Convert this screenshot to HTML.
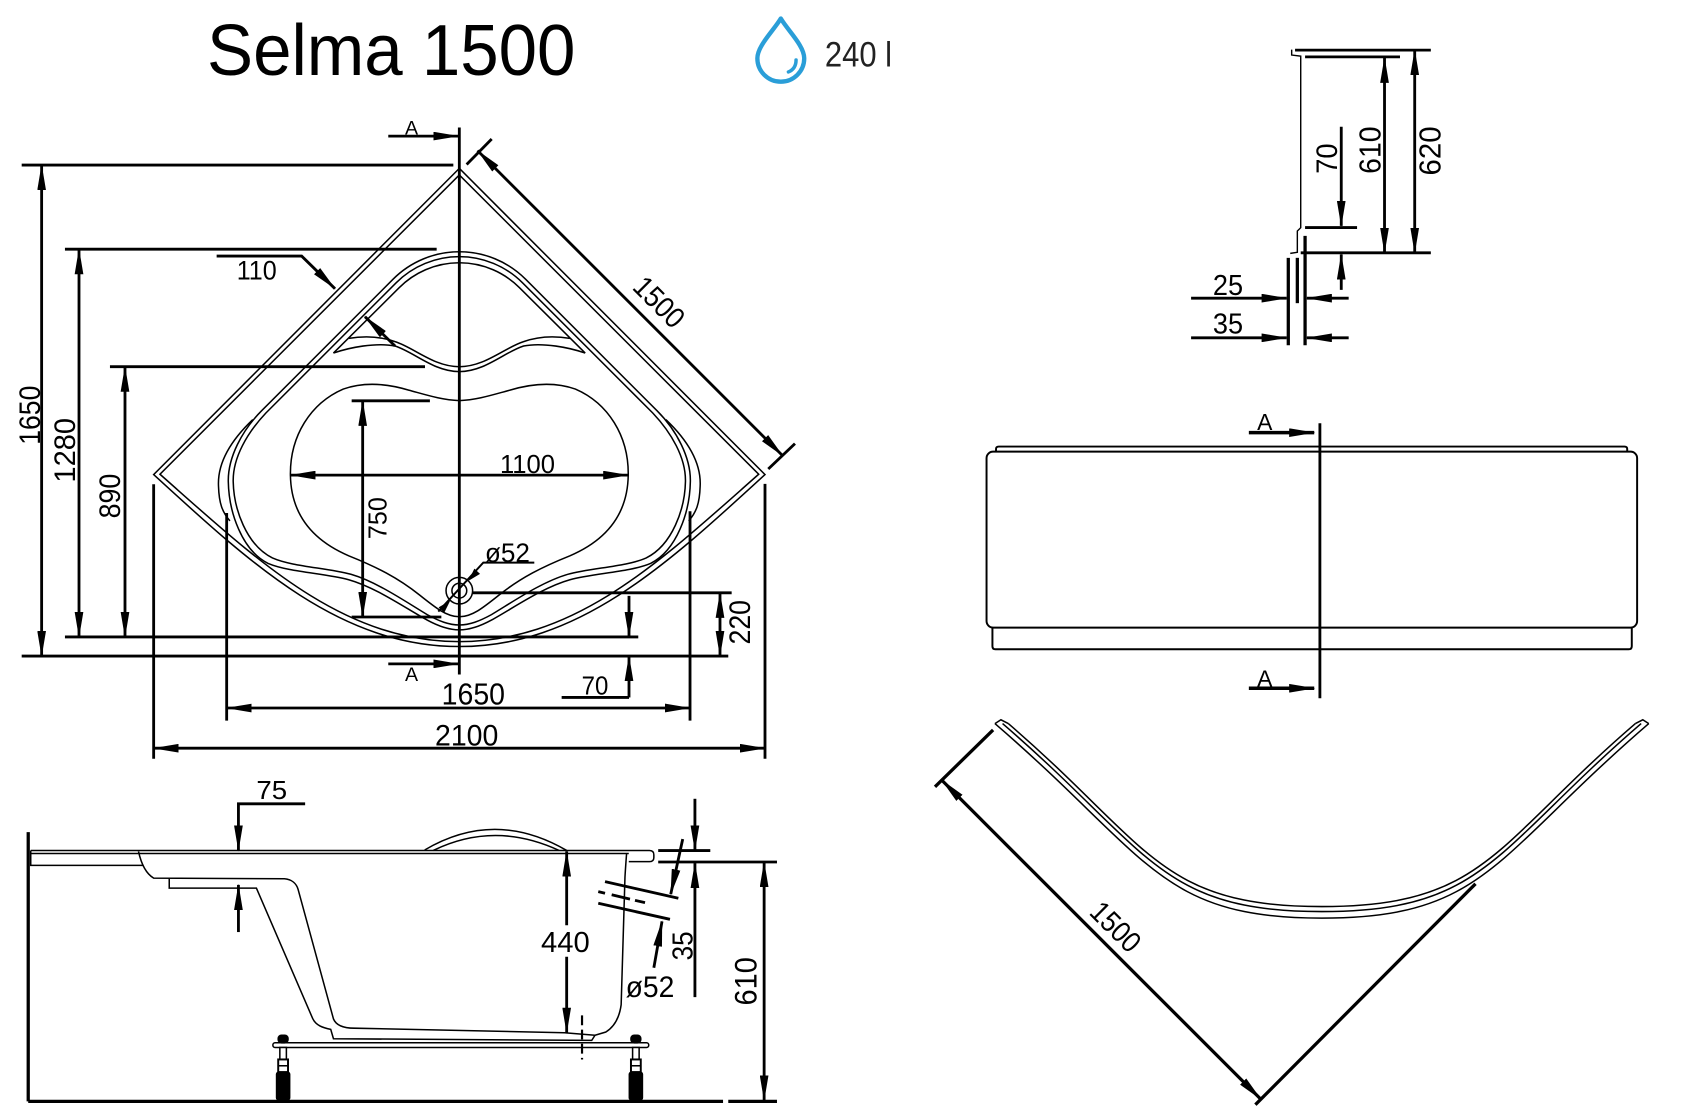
<!DOCTYPE html>
<html><head><meta charset="utf-8">
<style>html,body{margin:0;padding:0;background:#fff;width:1700px;height:1120px;overflow:hidden}svg{display:block}</style>
</head><body>
<svg xmlns="http://www.w3.org/2000/svg" width="1700" height="1120" viewBox="0 0 1560 1027.76">
<defs>
<marker id="a" viewBox="0 0 24 8" refX="23" refY="4" markerWidth="24" markerHeight="8" markerUnits="userSpaceOnUse" orient="auto-start-reverse"><path d="M0,0 L24,4 L0,8 Z" fill="#000"/></marker>
</defs>
<rect x="0" y="0" width="1560" height="1027.76" fill="#fff"/>

<!-- ============ PLAN VIEW: dimensions ============ -->
<g fill="none" stroke="#000" stroke-width="2.6">
  <line x1="421.5" y1="117" x2="421.5" y2="619"/>
  <line x1="356.3" y1="124.9" x2="420.6" y2="124.9" marker-end="url(#a)"/>
  <line x1="356.3" y1="609.2" x2="420.6" y2="609.2" marker-end="url(#a)"/>
  <line x1="19.9" y1="151.5" x2="416" y2="151.5"/>
  <line x1="19.9" y1="602" x2="668.3" y2="602"/>
  <line x1="59.6" y1="228.7" x2="400.7" y2="228.7"/>
  <line x1="59.6" y1="584.5" x2="585.7" y2="584.5"/>
  <line x1="100.9" y1="336.5" x2="390" y2="336.5"/>
  <line x1="322.7" y1="367.8" x2="394.5" y2="367.8"/>
  <line x1="322.7" y1="566.2" x2="405" y2="566.2"/>
  <line x1="434" y1="544" x2="671.4" y2="544"/>
  <line x1="38.2" y1="151.5" x2="38.2" y2="602" marker-start="url(#a)" marker-end="url(#a)"/>
  <line x1="72.5" y1="228.7" x2="72.5" y2="584.5" marker-start="url(#a)" marker-end="url(#a)"/>
  <line x1="114.7" y1="336.5" x2="114.7" y2="584.5" marker-start="url(#a)" marker-end="url(#a)"/>
  <line x1="332.8" y1="367.8" x2="332.8" y2="566.2" marker-start="url(#a)" marker-end="url(#a)"/>
  <line x1="660.7" y1="544" x2="660.7" y2="602" marker-start="url(#a)" marker-end="url(#a)"/>
  <line x1="577.2" y1="546.8" x2="577.2" y2="584.5" marker-end="url(#a)"/>
  <line x1="577.2" y1="640" x2="577.2" y2="602" marker-end="url(#a)"/>
  <line x1="515.4" y1="640" x2="577.2" y2="640"/>
  <line x1="266.5" y1="436" x2="576.5" y2="436" marker-start="url(#a)" marker-end="url(#a)"/>
  <line x1="208" y1="649.7" x2="633.2" y2="649.7" marker-start="url(#a)" marker-end="url(#a)"/>
  <line x1="141" y1="686.6" x2="702" y2="686.6" marker-start="url(#a)" marker-end="url(#a)"/>
  <line x1="141" y1="444.4" x2="141" y2="696.3"/>
  <line x1="208" y1="470.8" x2="208" y2="661.3"/>
  <line x1="633.2" y1="469.2" x2="633.2" y2="661.3"/>
  <line x1="702" y1="444" x2="702" y2="696.3"/>
  <line x1="438.25" y1="138.25" x2="718.25" y2="418.25" marker-start="url(#a)" marker-end="url(#a)"/>
  <line x1="428.2" y1="150.9" x2="451.2" y2="127.6"/>
  <line x1="705" y1="430.4" x2="729.5" y2="407.1"/>
  <path d="M198.8,235 L276.8,235 L307.4,264.9" marker-end="url(#a)"/>
  <line x1="362.5" y1="317.5" x2="334.9" y2="290.6" marker-end="url(#a)"/>
</g>
<g fill="none" stroke="#000" stroke-width="1.8">
  <path d="M402.2,561.2 L443.5,516.3 L490.3,516.3"/>
</g>
<polygon points="429.8,533 440.5,526.6 435.3,521.8" fill="#000"/>
<polygon points="413.2,551 407.7,562.2 402.5,557.4" fill="#000"/>

<!-- ============ PLAN VIEW: outlines ============ -->
<g fill="none" stroke="#000" stroke-width="1.4">
  <path d="M421.5,154.5 L141,435.5 C231,518 312,593.3 421.5,593.3 C531,593.3 612,518 702,435.5 Z"/>
  <path d="M421.5,160.5 L146.8,435.2 C235,513 313,588.8 421.5,588.8 C530,588.8 608,513 696.2,435.2 Z"/>
  <path d="M421.5,231 A86,86 0 0 0 360.7,256.2 L240,377 C222,395 209,420 209.5,442 C210,470 222,505 246,517 C265,525 298,526 320,532 C345,539 372,558 392,569 C403,575 412,578 421.5,578 C431,578 440,575 451,569 C471,558 498,539 523,532 C545,526 578,525 597,517 C621,505 633,470 633.5,442 C634,420 621,395 603,377 L482.3,256.2 A86,86 0 0 0 421.5,231 Z"/>
  <path d="M421.5,235.5 A82,82 0 0 0 363.5,259.5 L244,379 C227,397 213.5,420 214,442 C214.5,467 226,500 250,512 C268,520 300,521 322,527 C346,534 372,552 392,564 C403,570 412,573.5 421.5,573.5 C431,573.5 440,570 451,564 C471,552 497,534 521,527 C543,521 575,520 593,512 C617,500 628.5,467 629,442 C629.5,420 616,397 599,379 L479.5,259.5 A82,82 0 0 0 421.5,235.5 Z"/>
  <path d="M306,324 L366.3,264 A78,78 0 0 1 476.7,264 L537,324"/>
  <path d="M306,324 C320,319 345,314 362.5,317.5 C380,323 398,341 421.5,341 C445,341 463,323 480.5,317.5 C498,314 523,319 537,324"/>
  <path d="M320,310.5 C335,308 350,309 362.5,313.5 C380,319 398,336.5 421.5,336.5 C445,336.5 463,319 480.5,313.5 C493,309 508,308 523,310.5"/>
  <path d="M232,385 C212,404 199.5,425 200.5,446 C201,462 204,470 211,478"/>
  <path d="M611,385 C631,404 643.5,425 642.5,446 C642,462 639,470 632,478"/>
  <path d="M421.5,367.6 C405,367 390,362 375,358 C355,352 335,350 315,357 C285,370 266,400 266.5,436 C267,470 285,495 320,510 C345,520 365,530 385,546 C400,558 410,566 421.5,566 C433,566 443,558 458,546 C478,530 498,520 523,510 C558,495 576,470 576.5,436 C577,400 558,370 528,357 C508,350 488,352 468,358 C453,362 438,367 421.5,367.6 Z"/>
  <circle cx="421.5" cy="542" r="12.2"/>
  <circle cx="421.5" cy="542" r="6.8"/>
</g>

<!-- ============ SIDE SECTION ============ -->
<g fill="none" stroke="#000" stroke-width="3">
  <line x1="25.9" y1="763.6" x2="25.9" y2="1010.7"/>
  <line x1="25.9" y1="1010.7" x2="663.5" y2="1010.7"/>
  <line x1="668.3" y1="1010.7" x2="713" y2="1010.7"/>
</g>
<g fill="none" stroke="#000" stroke-width="1.4">
  <path d="M28.2,780.5 L596,780.5 Q600,780.5 600,784.5 L600,787 Q600,790.7 596,790.7 L577,790.7"/>
  <line x1="28.2" y1="783.2" x2="577" y2="783.2"/>
  <path d="M28.2,780.5 L28.2,794.1 L131.8,794.1"/>
  <path d="M127.1,781.3 C129,790 133,801 141,805.8 L261,806.4 C268,807 272,811 273.5,816 L306,935 C308.5,941 315,943.5 325,943.5 L518,947.7 L546,950"/>
  <path d="M155.3,806.4 L155.3,815 L235.3,815 L287,934.8 C290,941 296,943 303.5,944.6 L306,953.2 L543,954.7 L546,950"/>
  <path d="M575,783 C574.5,790 574,796 573.5,805 L570,922 C568.5,933 564,942 556,947 L546,950"/>
  <path d="M389.7,780 Q454,742 520,780.4"/>
  <path d="M397.6,780.4 Q454,753 513,780.4"/>
  <rect x="250.4" y="956.9" width="344.9" height="4.3" rx="2" fill="#fff"/>
</g>
<!-- legs -->
<g stroke="#000" stroke-width="1.4">
  <rect x="255.3" y="950" width="9" height="7" rx="3" fill="#000"/>
  <rect x="256.8" y="961.2" width="6" height="11" fill="#fff"/>
  <rect x="255.3" y="972.2" width="9" height="11.6" fill="#fff" stroke-width="1.8"/>
  <line x1="255.3" y1="978" x2="264.3" y2="978"/>
  <rect x="253.8" y="983.8" width="12" height="25.5" rx="2" fill="#000"/>
  <rect x="579" y="950" width="9" height="7" rx="3" fill="#000"/>
  <rect x="580.5" y="961.2" width="6" height="11" fill="#fff"/>
  <rect x="579" y="972.2" width="9" height="11.6" fill="#fff" stroke-width="1.8"/>
  <line x1="579" y1="978" x2="588" y2="978"/>
  <rect x="577.5" y="983.8" width="12" height="25.5" rx="2" fill="#000"/>
</g>
<g fill="none" stroke="#000" stroke-width="2.6">
  <line x1="534.1" y1="931.8" x2="534.1" y2="972.2" stroke-dasharray="9 4" stroke-width="2"/>
  <line x1="520" y1="849" x2="520" y2="781.3" marker-end="url(#a)"/>
  <line x1="520" y1="878" x2="520" y2="947.7" marker-end="url(#a)"/>
  <path d="M280,737.6 L218.8,737.6 L218.8,780.5" marker-end="url(#a)"/>
  <line x1="218.8" y1="855.3" x2="218.8" y2="812" marker-end="url(#a)"/>
  <line x1="637.7" y1="733" x2="637.7" y2="780.5" marker-end="url(#a)"/>
  <line x1="604" y1="780.5" x2="651.8" y2="780.5"/>
  <line x1="604" y1="791" x2="713" y2="791"/>
  <line x1="637.7" y1="915" x2="637.7" y2="792" marker-end="url(#a)"/>
  <line x1="626.5" y1="770" x2="615.5" y2="820.5" marker-end="url(#a)"/>
  <line x1="555.2" y1="809" x2="622.5" y2="824.3"/>
  <line x1="549" y1="828.9" x2="614.8" y2="843.6"/>
  <line x1="549" y1="818.2" x2="555.2" y2="819.7"/>
  <line x1="561.3" y1="821.1" x2="578.1" y2="825.1"/>
  <line x1="582.7" y1="826.2" x2="591.9" y2="828.3"/>
  <line x1="600" y1="888" x2="607.5" y2="845.5" marker-end="url(#a)"/>
  <line x1="701.2" y1="791" x2="701.2" y2="1009.8" marker-start="url(#a)" marker-end="url(#a)"/>
</g>

<!-- ============ TOP RIGHT DETAIL ============ -->
<g fill="none" stroke="#000" stroke-width="2.6">
  <line x1="1188.4" y1="46" x2="1313" y2="46"/>
  <line x1="1197.6" y1="52.2" x2="1284.7" y2="52.2"/>
  <line x1="1230.8" y1="116.3" x2="1230.8" y2="207.3" marker-end="url(#a)"/>
  <line x1="1197.6" y1="208.8" x2="1245.3" y2="208.8"/>
  <line x1="1270.5" y1="53" x2="1270.5" y2="232" marker-start="url(#a)" marker-end="url(#a)"/>
  <line x1="1298.2" y1="46" x2="1298.2" y2="232" marker-start="url(#a)" marker-end="url(#a)"/>
  <line x1="1193.6" y1="232" x2="1313" y2="232"/>
  <line x1="1230.8" y1="266" x2="1230.8" y2="233.5" marker-end="url(#a)"/>
  <line x1="1093" y1="273.6" x2="1180.7" y2="273.6" marker-end="url(#a)"/>
  <line x1="1237.6" y1="273.6" x2="1199.2" y2="273.6" marker-end="url(#a)"/>
  <line x1="1093" y1="310" x2="1180.7" y2="310" marker-end="url(#a)"/>
  <line x1="1237.6" y1="310" x2="1199.2" y2="310" marker-end="url(#a)"/>
</g>
<g fill="none" stroke="#000" stroke-width="3">
  <line x1="1182.2" y1="236.6" x2="1182.2" y2="316.8"/>
  <line x1="1190.5" y1="236.6" x2="1190.5" y2="278.2"/>
  <line x1="1197.6" y1="216.5" x2="1197.6" y2="316.8"/>
</g>
<path d="M1185.3,45.5 L1185.3,50.5 L1193.6,51.5 L1193.6,209 L1190.5,212 L1190.5,231.5 L1184,232.5" fill="none" stroke="#000" stroke-width="1.3"/>

<!-- ============ FRONT PANEL ============ -->
<g fill="none" stroke="#000" stroke-width="1.8">
  <rect x="905.3" y="414.4" width="597" height="161.5" rx="6"/>
  <path d="M914,414.4 L914,412 Q914,409.8 916.5,409.8 L1490.7,409.8 Q1493.2,409.8 1493.2,412 L1493.2,414.4"/>
  <path d="M910.7,575.9 L910.7,593 Q910.7,595.8 913.5,595.8 L1494.5,595.8 Q1497.4,595.8 1497.4,593 L1497.4,575.9"/>
</g>
<g fill="none" stroke="#000" stroke-width="2.6">
  <line x1="1211.2" y1="388.4" x2="1211.2" y2="640.8"/>
  <line x1="1146" y1="397" x2="1206" y2="397" stroke-width="3.2" marker-end="url(#a)"/>
  <line x1="1146" y1="631.6" x2="1206" y2="631.6" stroke-width="3.2" marker-end="url(#a)"/>
</g>

<!-- ============ CURVED PANEL ============ -->
<g fill="none" stroke="#000" stroke-width="1.4">
  <path d="M925.3,664 C1055,775.5 1063,831.9 1213,831.9 C1363,831.9 1371,775.5 1500.7,664"/>
  <path d="M920,664 C1055,780.1 1063,836.5 1213,836.5 C1363,836.5 1371,780.1 1506,664"/>
  <path d="M913,664 C1055,786.1 1063,842.5 1213,842.5 C1363,842.5 1371,786.1 1513,664"/>
  <path d="M913,664 L918.5,660.5 L925.3,664"/>
  <path d="M1513,664 L1507.5,660.5 L1500.7,664"/>
</g>
<g fill="none" stroke="#000" stroke-width="3">
  <line x1="858" y1="722" x2="911.3" y2="669.8"/>
  <line x1="864.2" y1="715.9" x2="1157" y2="1008.7" marker-start="url(#a)" marker-end="url(#a)"/>
  <line x1="1152" y1="1013.7" x2="1354" y2="811"/>
</g>

<!-- ============ DROP ICON ============ -->
<path d="M716.5,17 C710,28 695,42 695,53.5 A21.5,21.5 0 0 0 738,53.5 C738,42 723,28 716.5,17 Z" fill="none" stroke="#2a9ed8" stroke-width="4" stroke-linejoin="round"/>
<path d="M730.5,55 Q730.5,63 723.5,66" fill="none" stroke="#2a9ed8" stroke-width="3.2" stroke-linecap="round"/>

<!-- ============ TEXT ============ -->
<g font-family="'Liberation Sans', Arial, sans-serif" fill="#000" stroke="none">
  <text x="190" y="68.8" font-size="66" textLength="338" lengthAdjust="spacingAndGlyphs">Selma 1500</text>
  <text x="757" y="61.2" font-size="32" fill="#222" textLength="61.6" lengthAdjust="spacingAndGlyphs">240 l</text>

  <text x="371.6" y="123.5" font-size="18">A</text>
  <text x="371.6" y="625" font-size="18">A</text>
  <text x="217.2" y="256.7" font-size="25" textLength="36.7" lengthAdjust="spacingAndGlyphs">110</text>
  <text transform="translate(36.7,381) rotate(-90)" text-anchor="middle" font-size="27" textLength="54.3" lengthAdjust="spacingAndGlyphs">1650</text>
  <text transform="translate(68.8,413.2) rotate(-90)" text-anchor="middle" font-size="27" textLength="59.3" lengthAdjust="spacingAndGlyphs">1280</text>
  <text transform="translate(110.1,455.2) rotate(-90)" text-anchor="middle" font-size="27" textLength="41" lengthAdjust="spacingAndGlyphs">890</text>
  <text transform="translate(354.5,475.5) rotate(-90)" text-anchor="middle" font-size="24" textLength="38.5" lengthAdjust="spacingAndGlyphs">750</text>
  <text x="458.8" y="434" font-size="24" textLength="50.5" lengthAdjust="spacingAndGlyphs">1100</text>
  <text x="445" y="515.5" font-size="25" textLength="41.3" lengthAdjust="spacingAndGlyphs">ø52</text>
  <text transform="translate(688.2,571) rotate(-90)" text-anchor="middle" font-size="27" textLength="40.8" lengthAdjust="spacingAndGlyphs">220</text>
  <text x="533.7" y="637.3" font-size="24" textLength="24.5" lengthAdjust="spacingAndGlyphs">70</text>
  <text x="405.3" y="646.6" font-size="28" textLength="58.1" lengthAdjust="spacingAndGlyphs">1650</text>
  <text x="399.2" y="683.9" font-size="27" textLength="58.1" lengthAdjust="spacingAndGlyphs">2100</text>
  <text transform="translate(598.3,283.7) rotate(45)" text-anchor="middle" font-size="27" textLength="54" lengthAdjust="spacingAndGlyphs">1500</text>

  <text x="235.3" y="733" font-size="24" textLength="28.2" lengthAdjust="spacingAndGlyphs">75</text>
  <text x="496.5" y="873.7" font-size="26" textLength="44.7" lengthAdjust="spacingAndGlyphs">440</text>
  <text transform="translate(635.3,868) rotate(-90)" text-anchor="middle" font-size="26" textLength="26.6" lengthAdjust="spacingAndGlyphs">35</text>
  <text x="574.1" y="915" font-size="27" textLength="44.7" lengthAdjust="spacingAndGlyphs">ø52</text>
  <text transform="translate(694.1,900.5) rotate(-90)" text-anchor="middle" font-size="29" textLength="44.3" lengthAdjust="spacingAndGlyphs">610</text>

  <text transform="translate(1227,145.6) rotate(-90)" text-anchor="middle" font-size="27" textLength="27.8" lengthAdjust="spacingAndGlyphs">70</text>
  <text transform="translate(1267,137.8) rotate(-90)" text-anchor="middle" font-size="28" textLength="43.5" lengthAdjust="spacingAndGlyphs">610</text>
  <text transform="translate(1322,138.5) rotate(-90)" text-anchor="middle" font-size="28" textLength="45" lengthAdjust="spacingAndGlyphs">620</text>
  <text x="1113" y="270.5" font-size="26" textLength="27.7" lengthAdjust="spacingAndGlyphs">25</text>
  <text x="1113" y="306" font-size="26" textLength="27.7" lengthAdjust="spacingAndGlyphs">35</text>

  <text x="1153.6" y="394.5" font-size="21">A</text>
  <text x="1153.6" y="630" font-size="21">A</text>

  <text transform="translate(1017.3,857) rotate(45)" text-anchor="middle" font-size="27" textLength="53" lengthAdjust="spacingAndGlyphs">1500</text>
</g>
</svg>
</body></html>
